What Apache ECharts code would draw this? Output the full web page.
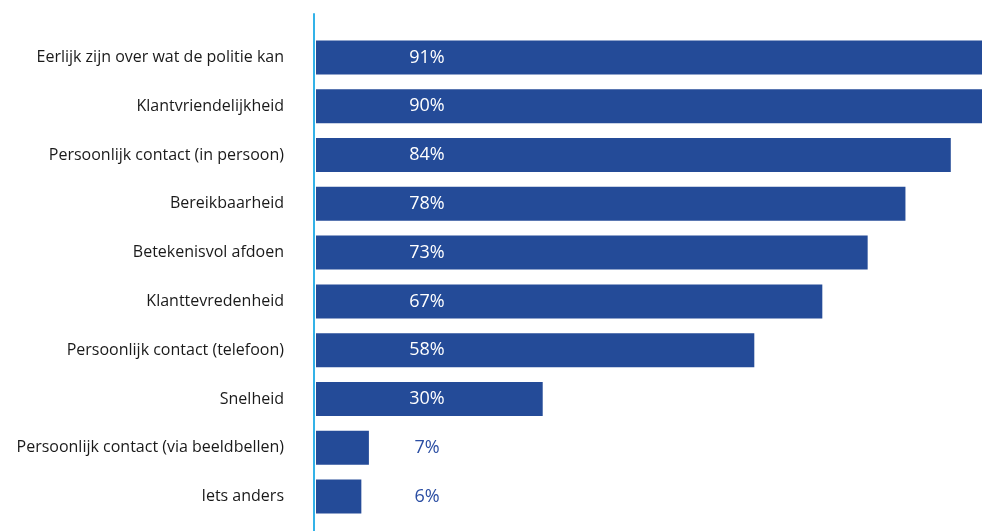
<!DOCTYPE html>
<html>
<head>
<meta charset="utf-8">
<script src="https://cdn.jsdelivr.net/npm/echarts@6/dist/echarts.min.js"></script>
<style>
  html, body { margin: 0; padding: 0; background: #ffffff; }
  #chart { width: 982px; height: 531px; }
</style>
</head>
<body>
<div id="chart"></div>
<script>
// Aspecten en het aandeel respondenten (%)
const categories = [
  'Eerlijk zijn over wat de politie kan',
  'Klantvriendelijkheid',
  'Persoonlijk contact (in persoon)',
  'Bereikbaarheid',
  'Betekenisvol afdoen',
  'Klanttevredenheid',
  'Persoonlijk contact (telefoon)',
  'Snelheid',
  'Persoonlijk contact (via beeldbellen)',
  'Iets anders'
];
const values = [91, 90, 84, 78, 73, 67, 58, 30, 7, 6];

const barColor = '#244b98';
const outsideLabelColor = '#2b4ea3';
const fontFamily = '"Open Sans", "Noto Sans", sans-serif';

const chart = echarts.init(document.getElementById('chart'), null, { renderer: 'canvas' });

chart.setOption({
  animation: false,
  backgroundColor: '#ffffff',
  grid: [
    { left: 316, top: 33, right: 0, height: 488, containLabel: false },
    { left: 314, top: 14, right: 0, bottom: 0, containLabel: false }
  ],
  xAxis: [
    // visible range ends at the right edge; the longest bars run past it
    { type: 'value', gridIndex: 0, min: 0, max: 88.13, show: false },
    { type: 'value', gridIndex: 1, min: 0, max: 1, show: false }
  ],
  yAxis: [
    {
      type: 'category',
      gridIndex: 0,
      data: categories,
      inverse: true,
      axisLine: { show: false },
      axisTick: { show: false },
      splitLine: { show: false },
      axisLabel: {
        margin: 32,
        color: '#1a1a1a',
        fontSize: 16,
        fontFamily: fontFamily
      }
    },
    {
      // vertical baseline running the full height
      type: 'value',
      gridIndex: 1,
      min: 0,
      max: 1,
      axisLine: { show: true, lineStyle: { color: '#33b2e8', width: 2 } },
      axisTick: { show: false },
      axisLabel: { show: false },
      splitLine: { show: false }
    }
  ],
  series: [
    {
      type: 'bar',
      xAxisIndex: 0,
      yAxisIndex: 0,
      barWidth: 34,
      clip: true,
      itemStyle: { color: barColor },
      data: values.map(v => ({
        value: v,
        label: { color: v < 10 ? outsideLabelColor : '#ffffff' }
      })),
      label: {
        show: true,
        position: [111, '50%'],
        align: 'center',
        verticalAlign: 'middle',
        fontSize: 18,
        fontFamily: fontFamily,
        formatter: p => p.value + '%'
      }
    }
  ]
});
</script>
</body>
</html>
